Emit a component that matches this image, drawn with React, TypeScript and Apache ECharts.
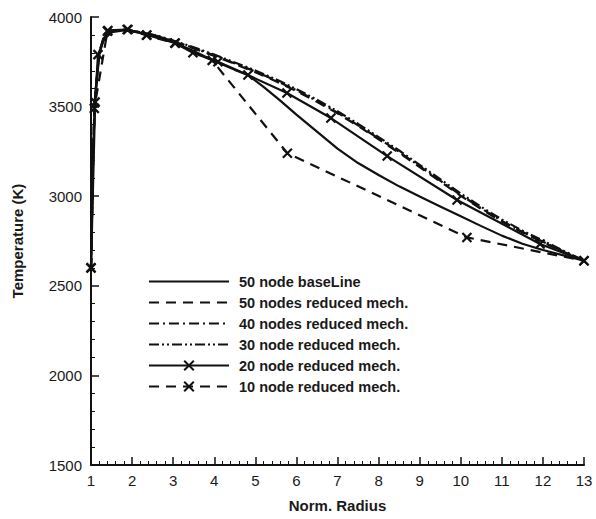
import React, { useEffect, useRef } from "react";
import * as echarts from "echarts";

// ---- data ----
const baseRadius = [1, 1.05, 1.1, 1.2, 1.3, 1.5, 1.8, 2.2, 2.6, 3, 3.5, 4, 4.5, 4.82, 5.2, 5.6, 6, 6.5, 7, 7.5, 8, 8.5, 9, 9.5, 10, 10.5, 11, 11.5, 12, 12.5, 13];
const baseTemp = [2600, 3250, 3530, 3790, 3870, 3915, 3925, 3912, 3892, 3860, 3810, 3755, 3705, 3676, 3610, 3535, 3455, 3360, 3265, 3185, 3118, 3055, 2998, 2943, 2888, 2833, 2780, 2735, 2700, 2670, 2640];

const bandRadius = [1, 1.05, 1.1, 1.2, 1.3, 1.5, 1.8, 2.2, 2.6, 3, 3.5, 4, 4.5, 5, 5.5, 6, 6.5, 7, 7.5, 8, 8.5, 9, 9.5, 10, 10.5, 11, 11.5, 12, 12.5, 13];
const red50Temp = [2600, 3250, 3560, 3800, 3880, 3920, 3930, 3915, 3895, 3865, 3825, 3783, 3738, 3692, 3642, 3587, 3527, 3462, 3392, 3318, 3242, 3162, 3082, 3002, 2928, 2858, 2798, 2743, 2690, 2640];
const n40Temp = [2600, 3250, 3560, 3800, 3880, 3920, 3930, 3915, 3895, 3866, 3827, 3786, 3741, 3696, 3646, 3591, 3531, 3466, 3396, 3322, 3247, 3167, 3087, 3007, 2932, 2862, 2801, 2746, 2692, 2640];
const n30Temp = [2600, 3250, 3560, 3800, 3880, 3920, 3930, 3916, 3897, 3869, 3831, 3790, 3746, 3702, 3652, 3598, 3538, 3474, 3404, 3330, 3255, 3175, 3095, 3015, 2940, 2870, 2808, 2752, 2696, 2640];

const n20Radius = [1, 1.1, 1.17, 1.41, 1.88, 2.36, 3.04, 3.48, 4.09, 4.82, 5.77, 6.84, 8.21, 9.91, 11.93, 13];
const n20Temp = [2600, 3525, 3790, 3925, 3930, 3900, 3855, 3800, 3750, 3676, 3576, 3436, 3224, 2979, 2733, 2640];

const n10Radius = [1, 1.08, 1.4, 1.9, 2.35, 3.05, 3.95, 5.78, 10.15, 13];
const n10Temp = [2600, 3490, 3920, 3930, 3898, 3853, 3758, 3240, 2770, 2640];

const seriesNames = [
  "50 node baseLine",
  "50 nodes reduced mech.",
  "40 nodes reduced mech.",
  "30 node reduced mech.",
  "20 node reduced mech.",
  "10 node reduced mech.",
];

const xMin = 1, xMax = 13, xStep = 1;
const yMin = 1500, yMax = 4000, yStep = 500;

const zip = (xs: number[], ys: number[]) => xs.map((x, i) => [x, ys[i]]);

const CROSS = "path://M0,0L10,10M10,0L0,10";
const FONT = "'Liberation Sans', Arial, Helvetica, sans-serif";
const HIDDEN = { color: "rgba(0,0,0,0)", borderColor: "rgba(0,0,0,0)", borderWidth: 0, opacity: 0 };

export default function App() {
  const ref = useRef<HTMLDivElement>(null);
  useEffect(() => {
    if (!ref.current) return;
    const chart = echarts.init(ref.current, undefined, { renderer: "svg" });
    const lineBase = (name: string, data: number[][], type: any, marker: boolean) => ({
      name,
      type: "line",
      data,
      smooth: false,
      symbol: marker ? CROSS : "none",
      symbolSize: 9,
      showSymbol: marker,
      itemStyle: { color: "#000", borderColor: "#111", borderWidth: 2.2 },
      lineStyle: { color: "#111", width: 2.2, type },
      emphasis: { disabled: true },
      z: marker ? 3 : 2,
    });
    chart.setOption({
      animation: false,
      backgroundColor: "#fff",
      grid: { left: 91, right: 12, top: 17, bottom: 54, containLabel: false },
      legend: {
        orient: "vertical",
        left: 143,
        top: 269,
        itemWidth: 80,
        itemHeight: 12,
        itemGap: 6,
        textStyle: { fontFamily: FONT, fontSize: 14.5, fontWeight: "bold", color: "#1a1a1a", padding: [0, 0, 0, 5] },
        data: seriesNames.map((n, i) => (i === 4 || i === 5 ? { name: n } : { name: n, itemStyle: HIDDEN })),
      },
      xAxis: {
        type: "value",
        min: xMin,
        max: xMax,
        interval: xStep,
        name: "Norm. Radius",
        nameLocation: "middle",
        nameGap: 33,
        nameTextStyle: { fontFamily: FONT, fontSize: 15, fontWeight: "bold", color: "#1a1a1a" },
        axisLine: { show: true, onZero: false, lineStyle: { color: "#111", width: 2 } },
        axisTick: { show: true, inside: true, length: 8, lineStyle: { color: "#111", width: 1.5 } },
        minorTick: { show: true, splitNumber: 5, length: 4, lineStyle: { color: "#111", width: 1 } },
        axisLabel: { fontFamily: FONT, fontSize: 15, color: "#1a1a1a", margin: 8, formatter: (v: number) => String(v) },
        splitLine: { show: false },
      },
      yAxis: {
        type: "value",
        min: yMin,
        max: yMax,
        interval: yStep,
        name: "Temperature (K)",
        nameLocation: "middle",
        nameGap: 66,
        nameTextStyle: { fontFamily: FONT, fontSize: 15, fontWeight: "bold", color: "#1a1a1a" },
        axisLine: { show: true, onZero: false, lineStyle: { color: "#111", width: 2 } },
        axisTick: { show: true, inside: true, length: 8, lineStyle: { color: "#111", width: 1.5 } },
        minorTick: { show: true, splitNumber: 5, length: 4, lineStyle: { color: "#111", width: 1 } },
        axisLabel: { fontFamily: FONT, fontSize: 15, color: "#1a1a1a", margin: 9, formatter: (v: number) => String(v) },
        splitLine: { show: false },
      },
      series: [
        lineBase(seriesNames[0], zip(baseRadius, baseTemp), "solid", false),
        lineBase(seriesNames[1], zip(bandRadius, red50Temp), [10, 7], false),
        lineBase(seriesNames[2], zip(bandRadius, n40Temp), [10, 4, 2, 4], false),
        lineBase(seriesNames[3], zip(bandRadius, n30Temp), [10, 3, 2, 3, 2, 3], false),
        lineBase(seriesNames[4], zip(n20Radius, n20Temp), "solid", true),
        lineBase(seriesNames[5], zip(n10Radius, n10Temp), [10, 7], true),
      ],
    });
    return () => chart.dispose();
  }, []);
  return <div ref={ref} style={{ position: "absolute", left: 0, top: 0, width: 596, height: 519 }} />;
}
